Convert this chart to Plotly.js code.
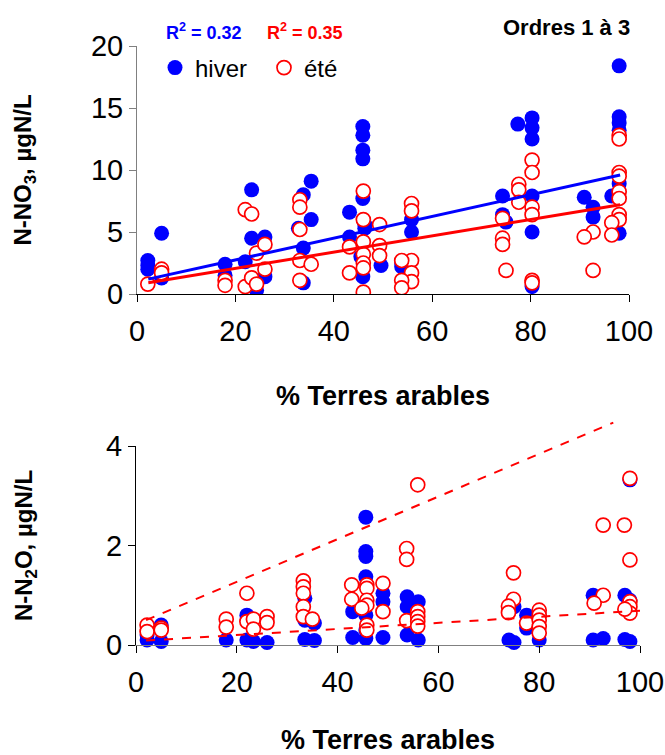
<!DOCTYPE html>
<html>
<head>
<meta charset="utf-8">
<script src="https://cdn.plot.ly/plotly-3.0.1.min.js"></script>
<style>html,body{margin:0;padding:0;background:#fff;}#chart{width:665px;height:755px;}</style>
</head>
<body>
<div id="chart"></div>
<script>
// ---- Top panel: N-NO3 vs % arable land ----
var hiverX_NO3 = [2.2,2.2,2.2, 5,5, 17.9,17.9, 22, 23.3,23.3, 24.3, 26,26, 33.8,33.8,33.8, 35.4,35.4, 32.8,
  45.9,45.9,45.9,45.9,45.9,45.9,45.5, 43.2,43.2, 46.3,46.3, 49.6, 55.8,55.8, 53.8,53.8,
  77.4, 80.3,80.3,80.3,80.3,80.3,80.3, 74.3,74.3, 75, 90.9, 92.7,92.7,
  98,98,98,98,98,98, 96.5];
var hiverNO3 = [2.7,2.3,2.0, 4.9,1.3, 2.4,1.5, 2.6, 8.4,4.5, 0.3, 4.6,1.4, 8.0,3.7,0.9, 9.1,6.0, 5.3,
  13.5,12.8,11.6,10.9,7.7,1.4,3.0, 6.6,4.6, 5.6,5.3, 2.3, 6.0,5.0, 2.5,2.2,
  13.7, 14.2,13.4,12.5,7.9,5.0,0.6, 7.9,6.4, 5.8, 7.8, 7.0,6.2,
  18.4,14.3,13.8,13.2,8.9,4.9, 7.9];

var eteX_NO3 = [2.2, 5,5, 17.9,17.9, 22,22, 23.3,23.3, 24.3,24.3, 26,26,
  33.1,33.1,33.1,33.1,33.1, 35.4,
  46,46,46,46,46,46,46, 43.2,43.2, 49.3,49.3,49.3,
  55.8,55.8,55.8,55.8,55.8, 53.8,53.8,53.8,
  80.3,80.3,80.3,80.3,80.3,80.3, 77.6,77.6,77.6, 74.3,74.3,74.3,75,
  92.7,92.7, 90.9,
  98,98,98,98,98,98,98,98, 96.5,96.5];
var eteNO3 = [0.8, 2.0,1.7, 1.1,0.7, 6.8,0.6, 6.45,1.3, 3.3,0.8, 4.0,2.0,
  7.6,7.0,5.2,2.7,1.1, 2.4,
  8.3,6.0,4.2,3.2,2.5,2.1,0.15, 3.8,1.7, 5.6,3.9,3.1,
  7.3,6.7,2.7,1.7,1.0, 2.7,1.1,0.5,
  10.8,9.8,7.0,6.4,1.1,0.9, 8.85,8.4,7.4, 6.1,4.5,4.0,1.9,
  5.0,1.9, 4.6,
  12.8,12.5,9.8,9.5,8.25,7.7,6.4,6.0, 5.75,4.76];

// linear trendlines (end points)
var trendX_NO3 = [2.3, 98.2];
var trendHiverNO3 = [1.2, 9.6];
var trendEteNO3 = [0.9, 7.2];

// ---- Bottom panel: N-N2O vs % arable land ----
var hiverX_N2O = [2.2,2.2, 5,5, 17.9, 22,22, 23.3, 26, 33.5,33.5,33.5, 35.4,35.4,
  45.6,45.6,45.6,45.6,45.6,45.6,45.6, 43,43, 49,49,49,
  53.8,53.8,53.8, 56,56, 74, 75,75, 77.5,77.5, 80,80,
  90.7,90.7, 92.7, 97,97, 98,98,98];
var hiverN2O = [0.2,0.1, 0.4,0.07, 0.1, 0.6,0.1, 0.07, 0.05, 0.94,0.5,0.11, 0.44,0.09,
  2.57,1.88,1.78,1.37,0.6,0.3,0.13, 0.67,0.15, 1.04,0.87,0.15,
  0.97,0.77,0.2, 0.87,0.1, 0.1, 0.77,0.05, 0.6,0.34, 0.6,0.1,
  1.0,0.1, 0.13, 1.0,0.11, 3.32,0.9,0.07];

var eteX_N2O = [2.2,2.2, 5,5, 17.9,17.9, 22,22, 23.3,23.3, 26,26,
  33.2,33.2,33.2,33.2,33.2, 35,
  42.8,42.8, 45.8,45.8,45.8,45.8,45.8,45.8, 44.8, 49,49,
  53.7,53.7,53.7, 55.9,55.9,55.9,55.9,55.9,
  74.9,74.9, 73.9,73.9, 77.5, 80,80,80,80,80,
  92.7,92.7, 90.9, 96.9, 98,98,98,98,98, 97];
var eteN2O = [0.4,0.27, 0.34,0.3, 0.52,0.36, 1.04,0.47, 0.52,0.32, 0.57,0.45,
  1.29,1.17,1.04,0.77,0.57, 0.52,
  1.21,0.92, 1.21,1.14,0.9,0.8,0.4,0.3, 0.74, 1.24,0.67,
  1.94,1.72,0.49, 3.22,0.67,0.57,0.47,0.38,
  1.45,0.92, 0.78,0.65, 0.44, 0.7,0.6,0.5,0.37,0.24,
  2.41,1.0, 0.84, 2.41, 3.35,1.71,0.87,0.77,0.64, 0.72];

// dashed trend lines (end points)
var trendUpX_N2O = [2, 94.7];
var trendUpN2O = [0.5, 4.47];
var trendLowX_N2O = [2, 100];
var trendLowN2O = [0.09, 0.69];

var FONT = 'Liberation Sans, Arial, sans-serif';
var W = 665, H = 755;
function px(x){return x/W;}
function py(y){return 1 - y/H;}
var N2O_PX_PER_UNIT = 49.75;

var blueMarker = {color:'#0000ff', size:15, line:{width:0}};
var redMarker = {color:'#ffffff', size:14, line:{color:'#ff0000', width:1.7}};

var traces = [
  {x:hiverX_NO3, y:hiverNO3, type:'scatter', mode:'markers', name:'hiver', marker:blueMarker, xaxis:'x', yaxis:'y', showlegend:true},
  {x:eteX_NO3, y:eteNO3, type:'scatter', mode:'markers', name:'été', marker:redMarker, xaxis:'x', yaxis:'y', showlegend:true},
  {x:trendX_NO3, y:trendHiverNO3, type:'scatter', mode:'lines', line:{color:'#0000ff', width:3}, xaxis:'x', yaxis:'y', showlegend:false, hoverinfo:'skip'},
  {x:trendX_NO3, y:trendEteNO3, type:'scatter', mode:'lines', line:{color:'#ff0000', width:3}, xaxis:'x', yaxis:'y', showlegend:false, hoverinfo:'skip'},
  {x:hiverX_N2O, y:hiverN2O, type:'scatter', mode:'markers', name:'hiver', marker:blueMarker, xaxis:'x2', yaxis:'y2', showlegend:false, cliponaxis:false},
  {x:eteX_N2O, y:eteN2O, type:'scatter', mode:'markers', name:'été', marker:redMarker, xaxis:'x2', yaxis:'y2', showlegend:false, cliponaxis:false},
  // the upper trend line rises above the 4 µgN/L tick, so it lives on a taller overlay subplot with the same scale
  {x:trendUpX_N2O, y:trendUpN2O, type:'scatter', mode:'lines', line:{color:'#ff0000', width:2, dash:'dash'}, xaxis:'x3', yaxis:'y3', showlegend:false, hoverinfo:'skip'},
  {x:trendLowX_N2O, y:trendLowN2O, type:'scatter', mode:'lines', line:{color:'#ff0000', width:2, dash:'dash'}, xaxis:'x3', yaxis:'y3', showlegend:false, hoverinfo:'skip'}
];

var tickFont = {family:FONT, size:29, color:'#000'};
var titleFont = {family:FONT, size:27, color:'#000', weight:'bold'};
var yTitleFont = {family:FONT, size:24, color:'#000', weight:'bold'};

var layout = {
  width:W, height:H,
  margin:{l:0, r:0, t:0, b:0},
  paper_bgcolor:'#fff', plot_bgcolor:'rgba(0,0,0,0)',
  font:{family:FONT, color:'#000'},
  showlegend:true,
  legend:{orientation:'h', x:px(155), y:py(68), xanchor:'left', yanchor:'middle',
    font:{family:FONT, size:24, color:'#000'}, bgcolor:'rgba(0,0,0,0)',
    entrywidth:64, entrywidthmode:'pixels', itemsizing:'trace'},
  xaxis:{domain:[px(137), px(629)], range:[0,100], tickvals:[0,20,40,60,80,100],
    showgrid:false, zeroline:false, showline:true, linecolor:'#000', linewidth:1,
    ticks:'outside', ticklen:7, tickcolor:'#000', tickfont:tickFont, ticklabelstandoff:4, anchor:'y',
    title:{text:'% Terres arables', font:titleFont, standoff:40}},
  yaxis:{domain:[py(294), py(46)], range:[0,20], tickvals:[0,5,10,15,20],
    showgrid:false, zeroline:false, showline:true, linecolor:'#808080', linewidth:1,
    ticks:'outside', ticklen:7, tickcolor:'#808080', tickfont:tickFont, anchor:'x',
    title:{text:'N-NO<sub>3</sub>, µgN/L', font:yTitleFont, standoff:52}},
  xaxis2:{domain:[px(136), px(640)], range:[0,100], tickvals:[0,20,40,60,80,100],
    showgrid:false, zeroline:false, showline:true, linecolor:'#808080', linewidth:1,
    ticks:'outside', ticklen:7, tickcolor:'#000', tickfont:tickFont, ticklabelstandoff:4, anchor:'y2',
    title:{text:'% Terres arables', font:titleFont, standoff:36}},
  yaxis2:{domain:[py(645), py(645-4*N2O_PX_PER_UNIT)], range:[0,4], tickvals:[0,2,4],
    showgrid:false, zeroline:false, showline:true, linecolor:'#000', linewidth:1,
    ticks:'outside', ticklen:7, tickcolor:'#000', tickfont:tickFont, anchor:'x2',
    title:{text:'N-N<sub>2</sub>O, µgN/L', font:yTitleFont, standoff:66}},
  xaxis3:{domain:[px(136), px(640)], range:[0,100], visible:false, anchor:'y3', fixedrange:true},
  yaxis3:{domain:[py(645), py(645-4.5*N2O_PX_PER_UNIT)], range:[0,4.5], visible:false, anchor:'x3', fixedrange:true},
  annotations:[
    {text:'R<sup>2</sup> = 0.32', xref:'paper', yref:'paper', x:px(164), y:py(31), xanchor:'left', yanchor:'middle', showarrow:false,
      font:{family:FONT, size:18, color:'#0000ff', weight:'bold'}},
    {text:'R<sup>2</sup> = 0.35', xref:'paper', yref:'paper', x:px(265), y:py(31), xanchor:'left', yanchor:'middle', showarrow:false,
      font:{family:FONT, size:18, color:'#ff0000', weight:'bold'}},
    {text:'Ordres 1 à 3', xref:'paper', yref:'paper', x:px(632), y:py(27), xanchor:'right', yanchor:'middle', showarrow:false,
      font:{family:FONT, size:22, color:'#000', weight:'bold'}}
  ]
};

Plotly.newPlot('chart', traces, layout, {staticPlot:true, displayModeBar:false});
</script>
</body>
</html>
